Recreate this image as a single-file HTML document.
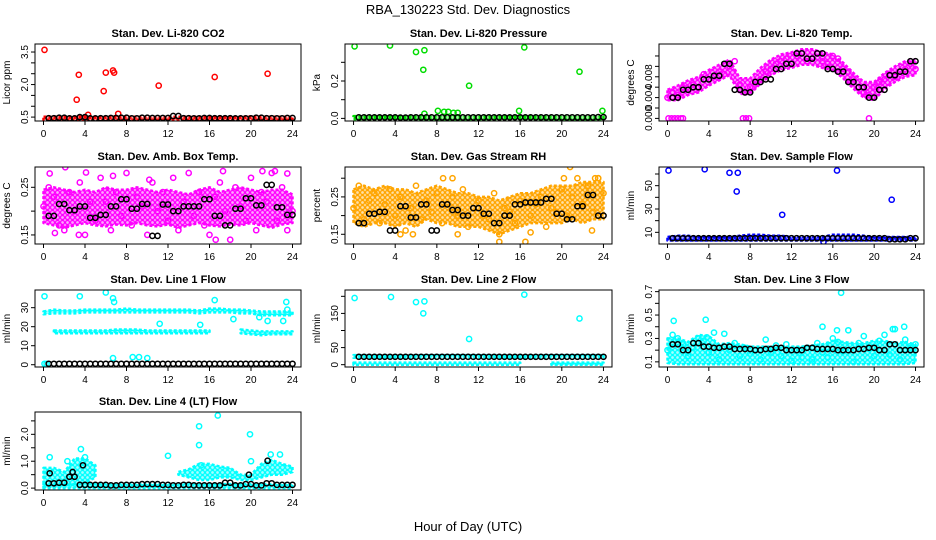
<!DOCTYPE html>
<html><head><meta charset="utf-8"><style>
html,body{margin:0;padding:0;background:#fff;}
svg{display:block;font-family:"Liberation Sans",Arial,sans-serif;}
</style></head><body>
<svg id="chart" width="936" height="540" viewBox="0 0 936 540" xmlns="http://www.w3.org/2000/svg">
<text x="468" y="14" text-anchor="middle" font-size="13">RBA_130223  Std. Dev. Diagnostics</text>
<text x="468" y="531" text-anchor="middle" font-size="13">Hour of Day (UTC)</text>
</svg>
<script>
const hours25=[0,1,2,3,4,5,6,7,8,9,10,11,12,13,14,15,16,17,18,19,20,21,22,23,24];
const hours49=[0,0.5,1,1.5,2,2.5,3,3.5,4,4.5,5,5.5,6,6.5,7,7.5,8,8.5,9,9.5,10,10.5,11,11.5,12,12.5,13,13.5,14,14.5,15,15.5,16,16.5,17,17.5,18,18.5,19,19.5,20,20.5,21,21.5,22,22.5,23,23.5,24];
const xTickLabels=["0","4","8","12","16","20","24"];

// P1 CO2
const co2Lo=[0.38,0.38,0.38,0.38,0.38,0.38,0.38,0.38,0.38,0.38,0.38,0.38,0.38,0.38,0.38,0.38,0.38,0.38,0.38,0.38,0.38,0.38,0.38,0.38,0.38];
const co2Hi=[0.52,0.52,0.53,0.52,0.54,0.52,0.52,0.53,0.52,0.52,0.52,0.52,0.52,0.52,0.52,0.52,0.52,0.53,0.52,0.52,0.53,0.52,0.52,0.52,0.52];
const co2Blk=[null,0.45,0.47,0.44,0.5,0.44,0.45,0.46,0.47,0.44,0.47,0.46,0.46,0.55,0.45,0.44,0.46,0.45,0.45,0.44,0.44,0.47,0.45,0.44,0.46];
const co2OutX=[0.1,3.2,3.4,4.3,5.8,6.0,6.7,6.8,7.2,11.1,16.5,21.6];
const co2OutY=[3.6,1.3,2.45,0.6,1.7,2.55,2.65,2.55,0.65,1.95,2.35,2.5];
// P2 Pressure
const presLo=[-0.004,-0.004,-0.004,-0.004,-0.004,-0.004,-0.004,-0.004,-0.004,-0.004,-0.004,-0.004,-0.004,-0.004,-0.004,-0.004,-0.004,-0.004,-0.004,-0.004,-0.004,-0.004,-0.004,-0.004,-0.004];
const presHi=[0.012,0.012,0.012,0.012,0.014,0.012,0.012,0.012,0.012,0.012,0.012,0.012,0.012,0.012,0.012,0.012,0.014,0.012,0.012,0.012,0.012,0.012,0.012,0.012,0.012];
const presBlk=[null,0.005,0.005,0.005,0.005,0.004,0.005,0.005,0.005,0.005,0.005,0.005,0.005,0.005,0.005,0.005,0.006,0.005,0.005,0.005,0.005,0.005,0.005,0.005,0.007];
const presOutX=[0.1,3.5,6.0,6.8,6.7,11.1,16.4,21.7,8.1,8.7,9.1,9.6,10.0,15.9,23.9,6.8];
const presOutY=[0.385,0.39,0.355,0.365,0.26,0.175,0.38,0.25,0.04,0.035,0.035,0.03,0.03,0.04,0.04,0.025];
// P3 Temp
const tempLo=[0.0035,0.0035,0.0045,0.005,0.0063,0.0073,0.0083,0.0047,0.0047,0.0067,0.0083,0.0093,0.0097,0.0103,0.0103,0.0097,0.0093,0.0077,0.0057,0.004,0.0035,0.0057,0.007,0.008,0.0083];
const tempHi=[0.0055,0.0063,0.0073,0.008,0.0093,0.0103,0.0113,0.0077,0.0077,0.0097,0.0113,0.0123,0.0127,0.0133,0.0133,0.0127,0.0123,0.0107,0.0087,0.007,0.007,0.0087,0.01,0.011,0.0113];
const tempPts=[0.004,0.005,0.0045,0.006,0.0055,0.0065,0.006,0.0085,0.0075,0.008,0.009,0.0085,0.01,0.011,0.0065,0.005,0.006,0.0065,0.0075,0.009,0.0095,0.0105,0.011,0.0115,0.0105,0.012,0.0125,0.011,0.0115,0.0125,0.011,0.0105,0.012,0.0115,0.0095,0.009,0.0075,0.006,0.005,0.0045,0.006,0.007,0.0075,0.0085,0.008,0.009,0.0095,0.0105,0.0095];
const tempBlk=[0.004,0.004,0.0055,0.006,0.0075,0.0082,0.0105,0.0055,0.005,0.007,0.0075,0.0095,0.0105,0.0125,0.0115,0.0125,0.0095,0.009,0.007,0.006,0.004,0.0055,0.0083,0.009,0.011];
const tempOutX=[0.1,0.4,0.7,1.0,1.3,1.5,7.3,7.6,7.9,19.5];
const tempOutY=[0,0,0,0,0,0,0,0,0,0];
// P4 Amb box temp
const ambLo=[0.175,0.17,0.165,0.17,0.175,0.17,0.168,0.172,0.17,0.175,0.17,0.168,0.172,0.165,0.17,0.175,0.17,0.168,0.172,0.17,0.175,0.17,0.165,0.172,0.175];
const ambHi=[0.245,0.25,0.245,0.24,0.245,0.24,0.25,0.245,0.245,0.25,0.245,0.24,0.245,0.24,0.235,0.245,0.25,0.24,0.245,0.25,0.245,0.24,0.245,0.245,0.235];
const ambPts=[0.21,0.25,0.23,0.17,0.16,0.24,0.2,0.26,0.15,0.22,0.18,0.27,0.22,0.16,0.24,0.19,0.28,0.17,0.23,0.21,0.15,0.26,0.2,0.24,0.18,0.27,0.16,0.22,0.28,0.19,0.24,0.17,0.15,0.23,0.26,0.2,0.14,0.25,0.21,0.18,0.27,0.16,0.24,0.22,0.28,0.18,0.25,0.16,0.2];
const ambBlk=[0.175,0.19,0.215,0.202,0.21,0.186,0.192,0.21,0.225,0.205,0.215,0.148,0.214,0.2,0.21,0.21,0.225,0.19,0.17,0.205,0.227,0.212,0.255,0.208,0.192];
const ambOutX=[2.1,0.6,4.1,6.7,10.2,17.3,21.1,22.3,23.5,3.4,16.6,1.1];
const ambOutY=[0.292,0.279,0.281,0.274,0.266,0.284,0.284,0.284,0.279,0.15,0.14,0.154];
// P5 RH
const rhLo=[0.18,0.17,0.18,0.18,0.17,0.18,0.17,0.19,0.18,0.18,0.17,0.17,0.17,0.16,0.15,0.16,0.17,0.18,0.18,0.18,0.18,0.19,0.18,0.19,0.19];
const rhHi=[0.27,0.28,0.27,0.28,0.27,0.27,0.26,0.27,0.28,0.27,0.26,0.26,0.25,0.25,0.24,0.25,0.26,0.26,0.27,0.28,0.28,0.28,0.29,0.29,0.29];
const rhPts=[0.22,0.28,0.19,0.24,0.26,0.18,0.23,0.27,0.2,0.25,0.16,0.22,0.28,0.19,0.24,0.21,0.26,0.18,0.23,0.25,0.2,0.27,0.17,0.22,0.24,0.2,0.19,0.26,0.15,0.22,0.21,0.18,0.24,0.13,0.2,0.23,0.25,0.17,0.22,0.21,0.27,0.2,0.25,0.3,0.23,0.28,0.21,0.3,0.26];
const rhBlk=[0.27,0.18,0.205,0.21,0.16,0.225,0.195,0.23,0.16,0.23,0.215,0.2,0.22,0.205,0.18,0.2,0.23,0.235,0.235,0.245,0.205,0.19,0.225,0.255,0.2];
const rhOutX=[20.8,20.2,23.2,23.5,8.6,9.5,14.0,4.5,5.7,10,17,22.9];
const rhOutY=[0.33,0.3,0.3,0.3,0.3,0.3,0.13,0.15,0.15,0.15,0.155,0.16];
// P6 Sample flow
const sfLo=[3,3,3,3,3,3,3,3,3,3,3,3,3,3,3,3,3,3,3,3,3,3,3,3,3];
const sfHi=[6,7,7,6,6,6,6,7,8,8,7,7,6,6,6,6,8,8,8,7,6,6,6,6,6];
const sfBlk=[null,5,5,5,5,5,5,5,5,5,5,5,5,5,5,5,5,5,5,5,5,5,4,4,5];
const sfOutX=[0.1,3.6,6,6.8,6.7,11.1,16.4,21.7,15.1];
const sfOutY=[63,64,61,61,45,25,63,38,2];
// P7 Line 1 flow
const l1UpLo=[26.5,27,27,27,27.5,27.5,27.5,27.5,27.5,27.5,27.5,27.5,27.5,27.5,27.5,27,27.5,27.5,27.5,27,27,26,26,26,26];
const l1UpHi=[28,29,28.5,28.5,29,29,29,29,29.5,29,29,29,29,29,29,28.5,29.5,29.5,29,29,28.5,28,28,28,28];
const l1LowLo=[null,16.5,16.5,16.5,16.5,16.5,16.5,16.5,16.5,16.5,16.5,16.5,16.5,16.5,16.5,16.5,16.5,null,null,16.5,16,15.5,16,16,16];
const l1LowHi=[null,18,18,18,18,18,18,18.5,18.5,18.5,18,18,18,18,18,18,18,null,null,18.5,18,17.5,17.5,17.5,17.5];
const l1Blk=[null,0.5,0.5,0.5,0.5,0.5,0.5,0.5,0.5,0.5,0.5,0.5,0.5,0.5,0.5,0.5,0.5,0.5,0.5,0.5,0.5,0.5,0.5,0.5,0.5];
const l1OutX=[0.1,3.5,6,6.7,6.8,6.7,8.6,9.2,10,11.2,15.1,16.5,18.3,21.6,23.1,23.4,23.5,20.8,0.1,0.3];
const l1OutY=[36,36,38,35,33,3.5,4,4,3.5,21.5,21,34,24,23,23,33,29,25,0.5,0.5];
// P8 Line 2 flow
const l2UpLo=[20,20,20,20,20,20,20,20,20,20,20,20,20,20,20,20,20,20,20,20,20,20,20,20,20];
const l2UpHi=[28,28,28,28,28,28,28,28,28,28,28,28,28,28,28,28,28,28,28,28,28,28,28,28,28];
const l2LowLo=[0,0,0,0,0,0,0,0,0,0,0,0,0,0,0,0,0,null,null,0,0,0,0,0,0];
const l2LowHi=[6,6,6,6,6,6,6,6,6,6,6,6,6,6,6,6,6,null,null,6,6,6,6,6,6];
const l2Blk=[null,23,23,23,23,23,23,23,23,23,23,23,23,23,23,23,23,23,23,23,23,23,23,23,23];
const l2OutX=[0.1,3.6,6,6.8,6.7,11.1,16.4,21.7];
const l2OutY=[195,198,183,185,150,75,205,135];
// P9 Line 3 flow
const l3Lo=[0.09,0.08,0.08,0.08,0.08,0.08,0.08,0.08,0.08,0.08,0.08,0.08,0.08,0.08,0.08,0.08,0.08,0.08,0.08,0.08,0.08,0.08,0.08,0.08,0.09];
const l3Hi=[0.3,0.3,0.27,0.33,0.32,0.25,0.26,0.25,0.23,0.23,0.23,0.23,0.23,0.23,0.24,0.25,0.28,0.27,0.26,0.26,0.28,0.28,0.26,0.27,0.25];
const l3Pts=[0.2,0.33,0.3,0.25,0.15,0.22,0.3,0.28,0.18,0.35,0.12,0.34,0.2,0.26,0.15,0.22,0.17,0.2,0.12,0.29,0.18,0.24,0.15,0.25,0.11,0.2,0.14,0.22,0.12,0.26,0.18,0.14,0.3,0.27,0.19,0.37,0.1,0.26,0.32,0.21,0.15,0.28,0.33,0.16,0.38,0.12,0.29,0.22,0.25];
const l3Blk=[null,0.25,0.2,0.26,0.23,0.22,0.23,0.21,0.21,0.2,0.21,0.22,0.2,0.2,0.22,0.21,0.21,0.2,0.2,0.21,0.22,0.2,0.25,0.2,0.2];
const l3OutX=[0.6,3.7,16.8,15,22.9,16.4,21.8,3.8];
const l3OutY=[0.45,0.46,0.69,0.4,0.4,0.37,0.38,0.31];
// P10 Line 4 flow
const l4BaseLo=[0,0,0,0,0,0,0,0,0,0,0,0,0,0,0,0,0,0,0,0,0,0,0,0,0];
const l4BaseHi=[0.15,0.15,0.15,0.15,0.18,0.15,0.15,0.15,0.15,0.15,0.15,0.15,0.15,0.15,0.18,0.15,0.15,0.15,0.15,0.15,0.15,0.15,0.15,0.15,0.15];
const l4BurstLo=[0.05,0.1,0.1,0.15,0.2,0.4,null,null,null,null,null,null,null,0.5,0.4,0.3,0.3,0.4,0.4,0.3,0.3,0.4,0.5,0.5,0.6];
const l4BurstHi=[0.75,0.75,0.6,1.1,1.1,0.85,null,null,null,null,null,null,null,0.6,0.7,0.9,0.9,0.8,0.75,0.5,0.5,0.9,1.05,0.9,0.8];
const l4Blk=[null,0.18,0.2,0.42,0.12,0.12,0.12,0.1,0.12,0.12,0.15,0.15,0.12,0.1,0.12,0.1,0.1,0.1,0.2,0.1,0.15,0.1,0.18,0.12,0.12];
const l4OutX=[0.6,2.3,3.6,4,12,15,15,16.8,19.9,20,22.8,21.9,15.2];
const l4OutY=[1.15,1.0,1.45,1.15,1.2,2.3,1.6,2.7,2.0,1.0,1.25,1.25,0.85];
const l4BlkOutX=[0.6,2.8,3.8,19.8,21.6];
const l4BlkOutY=[0.55,0.6,0.85,0.5,1.02];

const C1=[35,301],C2=[345,612],C3=[659,924];
const R1=[44,121],R2=[167,244],R3=[290,367],R4=[412,490];
const panels=[
 {name:"co2",title:"Stan. Dev. Li-820 CO2",ylab:"Licor ppm",cx:C1,ry:R1,ymin:0.32,ymax:3.87,ticks:[0.5,1,1.5,2,2.5,3,3.5],labels:[0.5,2,3.5],fmt:1,color:"#ff0000",
  bands:[[co2Lo,co2Hi]],pts:null,blk:co2Blk,outX:co2OutX,outY:co2OutY},
 {name:"pressure",title:"Stan. Dev. Li-820 Pressure",ylab:"kPa",cx:C2,ry:R1,ymin:-0.014,ymax:0.398,ticks:[0,0.1,0.2,0.3],labels:[0,0.2],fmt:1,color:"#00dd00",
  bands:[[presLo,presHi]],pts:null,blk:presBlk,outX:presOutX,outY:presOutY},
 {name:"temp",title:"Stan. Dev. Li-820 Temp.",ylab:"degrees C",cx:C3,ry:R1,ymin:-0.0005,ymax:0.0143,ticks:[0,0.002,0.004,0.006,0.008,0.01,0.012],labels:[0,0.004,0.008],fmt:3,color:"#ff00ff",
  bands:[[tempLo,tempHi]],pts:tempPts,blk:tempBlk,outX:tempOutX,outY:tempOutY},
 {name:"amb-temp",title:"Stan. Dev. Amb. Box Temp.",ylab:"degrees C",cx:C1,ry:R2,ymin:0.131,ymax:0.2926,ticks:[0.15,0.2,0.25],labels:[0.15,0.25],fmt:2,color:"#ff00ff",
  bands:[[ambLo,ambHi]],pts:ambPts,blk:ambBlk,outX:ambOutX,outY:ambOutY},
 {name:"rh",title:"Stan. Dev. Gas Stream RH",ylab:"percent",cx:C2,ry:R2,ymin:0.124,ymax:0.33,ticks:[0.15,0.2,0.25,0.3],labels:[0.15,0.25],fmt:2,color:"#ffa500",
  bands:[[rhLo,rhHi]],pts:rhPts,blk:rhBlk,outX:rhOutX,outY:rhOutY},
 {name:"sample-flow",title:"Stan. Dev. Sample Flow",ylab:"ml/min",cx:C3,ry:R2,ymin:0,ymax:66,ticks:[10,20,30,40,50,60],labels:[10,30,50],fmt:0,color:"#0000ff",
  bands:[[sfLo,sfHi]],pts:null,blk:sfBlk,outX:sfOutX,outY:sfOutY},
 {name:"line1-flow",title:"Stan. Dev. Line 1 Flow",ylab:"ml/min",cx:C1,ry:R3,ymin:-1.2,ymax:39.3,ticks:[0,10,20,30],labels:[0,10,20,30],fmt:0,color:"#00ffff",
  bands:[[l1UpLo,l1UpHi],[l1LowLo,l1LowHi]],pts:null,blk:l1Blk,outX:l1OutX,outY:l1OutY},
 {name:"line2-flow",title:"Stan. Dev. Line 2 Flow",ylab:"ml/min",cx:C2,ry:R3,ymin:-6.8,ymax:218.5,ticks:[0,50,100,150,200],labels:[0,50,150],fmt:0,color:"#00ffff",
  bands:[[l2UpLo,l2UpHi],[l2LowLo,l2LowHi]],pts:null,blk:l2Blk,outX:l2OutX,outY:l2OutY},
 {name:"line3-flow",title:"Stan. Dev. Line 3 Flow",ylab:"ml/min",cx:C3,ry:R3,ymin:0.056,ymax:0.714,ticks:[0.1,0.2,0.3,0.4,0.5,0.6,0.7],labels:[0.1,0.3,0.5,0.7],fmt:1,color:"#00ffff",
  bands:[[l3Lo,l3Hi]],pts:l3Pts,blk:l3Blk,outX:l3OutX,outY:l3OutY},
 {name:"line4-flow",title:"Stan. Dev. Line 4 (LT) Flow",ylab:"ml/min",cx:C1,ry:R4,ymin:-0.07,ymax:2.83,ticks:[0,0.5,1,1.5,2,2.5],labels:[0,1,2],fmt:1,color:"#00ffff",
  bands:[[l4BaseLo,l4BaseHi],[l4BurstLo,l4BurstHi]],pts:null,blk:l4Blk,outX:l4OutX,outY:l4OutY,bx:l4BlkOutX,by:l4BlkOutY}
];
const NS="http://www.w3.org/2000/svg";
const svg=document.getElementById("chart");
function mk(tag,attrs,parent){const e=document.createElementNS(NS,tag);for(const k in attrs)e.setAttribute(k,attrs[k]);(parent||svg).appendChild(e);return e;}
function circ(g,x,y,col){const c=mk("circle",{cx:x.toFixed(1),cy:y.toFixed(1),r:2.6,fill:"none",stroke:col,"stroke-width":1.5},g);return c;}
const defs=mk("defs",{});

panels.forEach(p=>{
 const x0=p.cx[0],x1=p.cx[1],y0=p.ry[0],y1=p.ry[1];
 const pad=(x1-x0)*0.032;
 const sx=h=>x0+pad+(h/24)*(x1-x0-2*pad);
 const sy=v=>y1-(v-p.ymin)/(p.ymax-p.ymin)*(y1-y0);
 // texture pattern of hollow circles
 const pat=mk("pattern",{id:"pat-"+p.name,width:5,height:5,patternUnits:"userSpaceOnUse"},defs);
 mk("rect",{x:0,y:0,width:5,height:5,fill:p.color,"fill-opacity":0.35},pat);
 mk("circle",{cx:2.5,cy:2.5,r:2,fill:"none",stroke:p.color,"stroke-width":1.3},pat);
 const g=mk("g",{});
 
 
 const clip=mk("clipPath",{id:"clip-"+p.name},g);
 mk("rect",{x:x0,y:y0,width:x1-x0,height:y1-y0},clip);
 const plot=mk("g",{"clip-path":"url(#clip-"+p.name+")"},g);
 
 
 p.bands.forEach((b,bi)=>{
  const lo=b[0],hi=b[1];let seg=[];
  const flush=()=>{ if(seg.length>1){
    let d="M"+seg.map(i=>sx(hours25[i]).toFixed(1)+","+sy(hi[i]).toFixed(1)).join("L");
    d+="L"+seg.slice().reverse().map(i=>sx(hours25[i]).toFixed(1)+","+sy(lo[i]).toFixed(1)).join("L")+"Z";
    const pa=mk("path",{d:d,fill:"url(#pat-"+p.name+")",stroke:p.color,"stroke-width":2.5,"stroke-linejoin":"round","stroke-dasharray":"3 2"},plot);
    
    
  } seg=[]; };
  for(let i=0;i<hours25.length;i++){ if(lo[i]==null){flush();} else seg.push(i);} flush();
 });
 if(p.pts){ p.pts.forEach((v,i)=>{const c=circ(plot,sx(hours49[i]),sy(v),p.color);
   
   }); }
 p.outX.forEach((h,i)=>{const c=circ(plot,sx(h),sy(p.outY[i]),p.color);
   
   });
 p.blk.forEach((v,i)=>{ if(v==null)return;
   [hours25[i]-0.5,hours25[i]].forEach(h=>{ if(h<0.4)return; const c=circ(plot,sx(h),sy(v),"#000");
   
   });});
 if(p.bx){ p.bx.forEach((h,i)=>{const c=circ(plot,sx(h),sy(p.by[i]),"#000");
   
   }); }
 const box=mk("rect",{x:x0,y:y0,width:x1-x0,height:y1-y0,fill:"none",stroke:"#000","stroke-width":1},g);
 
 
 const t=mk("text",{x:(x0+x1)/2,y:y0-7,"text-anchor":"middle","font-size":11,"font-weight":"bold"},g);
 t.textContent=p.title;
 
 
 const xa=mk("g",{},g);
 
 
 mk("line",{x1:sx(0),x2:sx(24),y1:y1,y2:y1,stroke:"#000"},xa);
 xTickLabels.forEach(l=>{const h=+l;
  mk("line",{x1:sx(h),x2:sx(h),y1:y1,y2:y1+4,stroke:"#000"},xa);
  const tx=mk("text",{x:sx(h),y:y1+16,"text-anchor":"middle","font-size":10},xa);tx.textContent=l;
  
  });
 const ya=mk("g",{},g);
 
 
 mk("line",{x1:x0,x2:x0,y1:sy(p.ticks[0]),y2:sy(p.ticks[p.ticks.length-1]),stroke:"#000"},ya);
 p.ticks.forEach(v=>mk("line",{x1:x0-4,x2:x0,y1:sy(v),y2:sy(v),stroke:"#000"},ya));
 p.labels.forEach(v=>{const yy=sy(v);
  const tx=mk("text",{x:x0-7,y:yy,"text-anchor":"middle","font-size":10,transform:`rotate(-90 ${x0-7} ${yy})`},ya);
  tx.textContent=v.toFixed(p.fmt);
  
  });
 const yl=mk("text",{x:x0-25,y:(y0+y1)/2,"text-anchor":"middle","font-size":10,transform:`rotate(-90 ${x0-25} ${(y0+y1)/2})`},g);
 yl.textContent=p.ylab;
 
 
});
</script>
</body></html>
